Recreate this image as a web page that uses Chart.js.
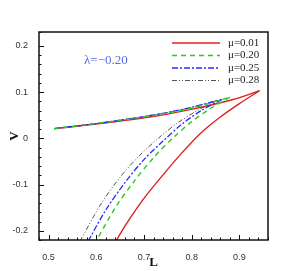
<!DOCTYPE html>
<html>
<head>
<meta charset="utf-8">
<script src="https://cdn.jsdelivr.net/npm/chart.js@4"></script>
<style>
    body { margin: 0; background: #fff; }
    canvas { display: block; }
</style>
</head>
<body>
<canvas id="chart" width="305" height="271"></canvas>
<script>
// upper branches (start -> cusp) and lower branches (cusp -> bottom)
const redUpperL = [0.512, 0.6, 0.712, 0.796, 0.887, 0.942];
const redUpperV = [0.021, 0.031, 0.046, 0.062, 0.084, 0.103];
const redLowerL = [0.942, 0.9, 0.86, 0.82, 0.78, 0.74, 0.7, 0.66, 0.64];
const redLowerV = [0.103, 0.075, 0.046, 0.012, -0.031, -0.079, -0.13, -0.19, -0.225];

const greenUpperL = [0.512, 0.6, 0.7, 0.75, 0.8, 0.88];
const greenUpperV = [0.021, 0.032, 0.046, 0.055, 0.065, 0.089];
const greenLowerL = [0.88, 0.84, 0.8, 0.76, 0.72, 0.68, 0.64, 0.6, 0.595];
const greenLowerV = [0.089, 0.065, 0.036, 0.0, -0.042, -0.092, -0.15, -0.222, -0.231];

const blueUpperL = [0.512, 0.6, 0.7, 0.75, 0.8, 0.863];
const blueUpperV = [0.021, 0.032, 0.047, 0.056, 0.067, 0.084];
const blueLowerL = [0.863, 0.82, 0.78, 0.74, 0.7, 0.66, 0.62, 0.58, 0.576];
const blueLowerV = [0.084, 0.06, 0.031, -0.006, -0.046, -0.096, -0.155, -0.228, -0.235];

const greyUpperL = [0.512, 0.6, 0.7, 0.75, 0.8, 0.852];
const greyUpperV = [0.021, 0.032, 0.047, 0.056, 0.067, 0.082];
const greyLowerL = [0.852, 0.81, 0.77, 0.73, 0.69, 0.65, 0.61, 0.57, 0.562];
const greyLowerV = [0.082, 0.059, 0.033, 0.0, -0.038, -0.084, -0.142, -0.215, -0.23];

const seriesLabels = ["μ=0.01", "μ=0.20", "μ=0.25", "μ=0.28"];
const annotation = "λ=−0.20";

const styles = [
    {color: "#e02020", dash: [], width: 1.4},
    {color: "#22cc22", dash: [5, 4], width: 1.4},
    {color: "#2a2aff", dash: [6, 2, 2, 2], width: 1.3},
    {color: "#555555", dash: [5, 2, 1, 2, 1, 2], width: 1}
];

function toPoints(xs, ys) {
    return xs.map((x, i) => ({x: x, y: ys[i]}));
}

const branches = [
    [redUpperL, redUpperV, redLowerL, redLowerV],
    [greenUpperL, greenUpperV, greenLowerL, greenLowerV],
    [blueUpperL, blueUpperV, blueLowerL, blueLowerV],
    [greyUpperL, greyUpperV, greyLowerL, greyLowerV]
];

const datasets = [];
branches.forEach((b, i) => {
    const s = styles[i];
    [[b[0], b[1]], [b[2], b[3]]].forEach(part => {
        datasets.push({
            label: seriesLabels[i],
            data: toPoints(part[0], part[1]),
            showLine: true,
            borderColor: s.color,
            borderWidth: s.width,
            borderDash: s.dash,
            pointRadius: 0,
            tension: 0.3,
            order: i === 0 ? 10 : i
        });
    });
});

function isMajor(v) {
    return Math.abs(v * 10 - Math.round(v * 10)) < 1e-6;
}

const frame = {
    id: "frame",
    afterDraw(chart) {
        const {ctx, chartArea: a, scales: {x, y}} = chart;
        ctx.save();
        ctx.strokeStyle = "#111";
        ctx.lineWidth = 1.5;
        ctx.setLineDash([]);
        ctx.strokeRect(a.left, a.top, a.width, a.height);

        ctx.lineWidth = 1;
        x.ticks.forEach(t => {
            const px = Math.round(x.getPixelForValue(t.value)) + 0.5;
            const len = isMajor(t.value) ? 5 : 2.5;
            ctx.beginPath();
            ctx.moveTo(px, a.bottom);
            ctx.lineTo(px, a.bottom - len);
            ctx.stroke();
        });
        y.ticks.forEach(t => {
            const py = Math.round(y.getPixelForValue(t.value)) + 0.5;
            const len = isMajor(t.value) ? 5 : 2.5;
            ctx.beginPath();
            ctx.moveTo(a.left, py);
            ctx.lineTo(a.left + len, py);
            ctx.stroke();
        });

        // legend
        ctx.font = "11px 'Liberation Serif'";
        ctx.textBaseline = "middle";
        ctx.textAlign = "left";
        const rows = [43, 55.5, 68, 80.5];
        styles.forEach((s, i) => {
            ctx.strokeStyle = s.color;
            ctx.lineWidth = s.width;
            ctx.setLineDash(s.dash);
            ctx.beginPath();
            ctx.moveTo(172, rows[i]);
            ctx.lineTo(220, rows[i]);
            ctx.stroke();
            ctx.fillStyle = "#222";
            ctx.fillText(seriesLabels[i], 228, rows[i]);
        });
        ctx.setLineDash([]);

        ctx.fillStyle = "#5a6ee8";
        ctx.font = "13px 'Liberation Serif'";
        ctx.fillText(annotation, 84, 61);

        // axis titles
        ctx.fillStyle = "#111";
        ctx.font = "bold 13px 'Liberation Serif'";
        ctx.textAlign = "center";
        ctx.fillText("L", (a.left + a.right) / 2, 263);
        ctx.translate(15, 136);
        ctx.rotate(-Math.PI / 2);
        ctx.fillText("V", 0, 0);
        ctx.restore();
    }
};

new Chart(document.getElementById("chart"), {
    type: "scatter",
    data: {datasets: datasets},
    options: {
        responsive: false,
        animation: false,
        layout: {padding: {top: 32, right: 37, left: 0, bottom: 0}},
        plugins: {legend: {display: false}, tooltip: {enabled: false}},
        scales: {
            x: {
                type: "linear",
                min: 0.48,
                max: 0.96,
                grid: {display: false},
                border: {display: false},
                ticks: {
                    stepSize: 0.02,
                    autoSkip: false,
                    maxRotation: 0,
                    padding: 4,
                    color: "#333",
                    font: {family: "'Liberation Sans'", size: 9},
                    callback: v => isMajor(v) ? Number(v.toFixed(1)).toString() : ""
                },
                afterFit: s => { s.height = 31; }
            },
            y: {
                type: "linear",
                min: -0.22,
                max: 0.23,
                grid: {display: false},
                border: {display: false},
                ticks: {
                    stepSize: 0.02,
                    autoSkip: false,
                    padding: 3,
                    color: "#333",
                    font: {family: "'Liberation Sans'", size: 9},
                    callback: v => isMajor(v) ? Number(v.toFixed(1)).toString() : ""
                },
                afterFit: s => { s.width = 39; }
            }
        }
    },
    plugins: [frame]
});
</script>
</body>
</html>
